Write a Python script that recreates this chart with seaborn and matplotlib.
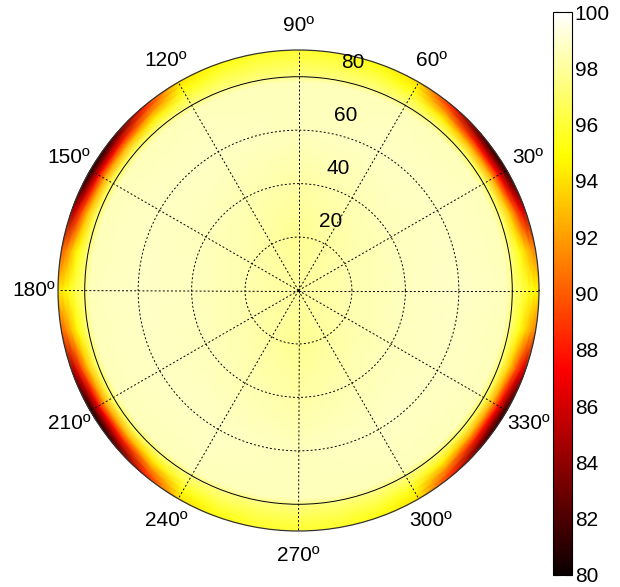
import numpy as np
import matplotlib
matplotlib.use("Agg")
import matplotlib.pyplot as plt
import seaborn as sns

# ---------------- data ----------------
# inner disc: coarse angular sampling (degrees), radii 0..78 (84 only sits under the ring)
theta_inner = [0, 30, 60, 90, 120, 150, 180, 210, 240, 270, 300, 330, 360]
radii_inner = [0, 20, 40, 60, 78, 84]
in_r0 = [98.0, 98.0, 98.0, 98.0, 98.0, 98.0, 98.0, 98.0, 98.0, 98.0, 98.0, 98.0, 98.0]
in_r20 = [98.4, 98.3, 98.1, 97.8, 98.1, 98.3, 98.4, 98.3, 98.1, 97.8, 98.1, 98.3, 98.4]
in_r40 = [98.7, 98.6, 98.5, 98.2, 98.5, 98.6, 98.7, 98.6, 98.5, 98.2, 98.5, 98.6, 98.7]
in_r60 = [98.9, 98.8, 98.8, 98.6, 98.8, 98.8, 98.9, 98.8, 98.8, 98.6, 98.8, 98.8, 98.9]
in_r78 = [98.6, 98.6, 98.6, 98.6, 98.6, 98.6, 98.6, 98.6, 98.6, 98.6, 98.6, 98.6, 98.6]

# outer ring: finer angular sampling (degrees), radii 78..90 (93 pads the clip)
theta_outer = [0, 10, 20, 30, 40, 50, 60, 70, 80, 90, 100, 110, 120, 130, 140, 150,
               160, 170, 180, 190, 200, 210, 220, 230, 240, 250, 260, 270, 280, 290,
               300, 310, 320, 330, 340, 350, 360]
radii_outer = [78, 81, 84, 86.5, 88.5, 90, 93]
out_r78 = [98.6] * 37
out_r81 = [97.2, 97.1, 96.8, 96.6, 96.6, 96.9, 97.2, 97.3, 97.3, 97.3, 97.3, 97.3,
           97.2, 96.9, 96.6, 96.5, 96.7, 97.0, 97.2, 97.0, 96.7, 96.5, 96.6, 96.9,
           97.2, 97.3, 97.3, 97.3, 97.3, 97.3, 97.2, 96.9, 96.6, 96.6, 96.8, 97.1, 97.2]
out_r84 = [96.4, 95.3, 93.5, 92.3, 92.6, 94.4, 96.2, 96.6, 96.7, 96.8, 96.7, 96.6,
           96.2, 94.4, 92.6, 92.2, 93.2, 95.0, 96.2, 95.0, 93.2, 92.2, 92.6, 94.4,
           96.2, 96.6, 96.7, 96.8, 96.7, 96.6, 96.2, 94.4, 92.6, 92.3, 93.5, 95.3, 96.4]
out_r86 = [95.5, 93.4, 89.8, 87.4, 88.0, 91.6, 95.2, 96.0, 96.3, 96.4, 96.3, 96.0,
           95.2, 91.6, 88.0, 87.1, 89.2, 92.8, 95.2, 92.8, 89.2, 87.1, 88.0, 91.6,
           95.2, 96.0, 96.3, 96.4, 96.3, 96.0, 95.2, 91.6, 88.0, 87.4, 89.8, 93.4, 95.5]
out_r88 = [94.8, 91.9, 86.8, 83.3, 84.2, 89.3, 94.4, 95.5, 96.0, 96.1, 96.0, 95.5,
           94.4, 89.3, 84.2, 82.9, 85.9, 91.0, 94.4, 91.0, 85.9, 82.9, 84.2, 89.3,
           94.4, 95.5, 96.0, 96.1, 96.0, 95.5, 94.4, 89.3, 84.2, 83.3, 86.8, 91.9, 94.8]
out_r90 = [94.5, 91.0, 85.0, 81.0, 82.0, 88.0, 94.0, 95.3, 95.8, 96.0, 95.8, 95.3,
           94.0, 88.0, 82.0, 80.5, 84.0, 90.0, 94.0, 90.0, 84.0, 80.5, 82.0, 88.0,
           94.0, 95.3, 95.8, 96.0, 95.8, 95.3, 94.0, 88.0, 82.0, 81.0, 85.0, 91.0, 94.5]

radial_ticks = [20, 40, 60, 80]
angle_ticks = [0, 30, 60, 90, 120, 150, 180, 210, 240, 270, 300, 330]
angle_labels = [30, 60, 90, 120, 150, 180, 210, 240, 270, 300, 330]
cbar_ticks = [80, 82, 84, 86, 88, 90, 92, 94, 96, 98, 100]

# ---------------- style ----------------
sns.set_theme(style="white")
plt.rcParams['font.family'] = ['Liberation Sans', 'DejaVu Sans']
plt.rcParams['text.color'] = 'black'
plt.rcParams['xtick.color'] = 'black'
plt.rcParams['ytick.color'] = 'black'
cmap = sns.color_palette("hot", as_cmap=True)

inner_vals = np.array([in_r0, in_r20, in_r40, in_r60, in_r78, in_r78])
outer_vals = np.array([out_r78, out_r81, out_r84, out_r86, out_r88, out_r90, out_r90])
TI, RI = np.meshgrid(np.deg2rad(theta_inner), radii_inner)
TO, RO = np.meshgrid(np.deg2rad(theta_outer), radii_outer)

fig = plt.figure(figsize=(6.2, 5.87), dpi=100)
ax = fig.add_axes([58 / 620, (587 - 531) / 587, 481 / 620, 481 / 587], projection='polar')
ax.pcolormesh(TI, RI, inner_vals, shading='gouraud', cmap=cmap,
              vmin=80, vmax=100, zorder=0.4)
mesh = ax.pcolormesh(TO, RO, outer_vals, shading='gouraud', cmap=cmap,
                     vmin=80, vmax=100, zorder=0.5)
ax.set_ylim(0, 90)
ax.set_yticks(radial_ticks)
ax.set_yticklabels([])
ax.set_xticks(np.deg2rad(angle_ticks))
ax.set_xticklabels([])
ax.tick_params(length=0)
ax.grid(True, color='black', linestyle=(0, (2, 2.2)), linewidth=0.7)
ax.set_axisbelow(False)
# the outermost labelled circle is drawn solid
ax.yaxis.get_major_ticks()[3].gridline.set_linestyle('-')
ax.spines['polar'].set_color('#333333')
ax.spines['polar'].set_linewidth(0.9)

for a in angle_labels:
    ax.text(np.deg2rad(a), 99.2, f"{a}º", ha='center', va='center',
            fontsize=15, clip_on=False)
for r in radial_ticks:
    ax.annotate(f"{r}", xy=(np.deg2rad(82), r), xytext=(25, 16),
                textcoords='offset pixels', ha='center', va='center', fontsize=15)

cax = fig.add_axes([553 / 620, 12 / 587, 19 / 620, 563 / 587])
cb = fig.colorbar(mesh, cax=cax, ticks=cbar_ticks)
cb.outline.set_edgecolor('black')
cb.outline.set_linewidth(0.8)
cax.tick_params(axis='y', direction='in', left=True, right=True, length=4,
                width=0.8, labelsize=15, pad=2, color='#333333')

fig.savefig("out.png", dpi=100)
